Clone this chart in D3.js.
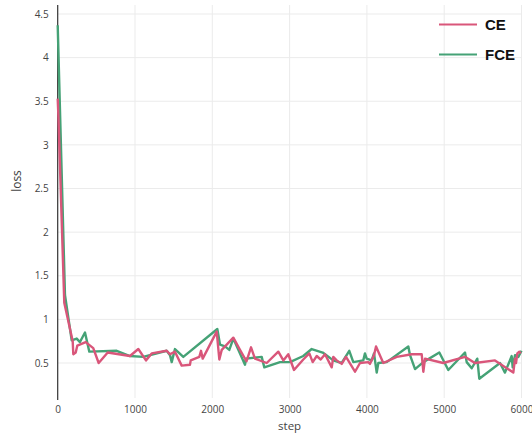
<!DOCTYPE html>
<html><head><meta charset="utf-8">
<script src="https://cdn.jsdelivr.net/npm/d3@7"></script>
<style>
html,body{margin:0;padding:0;background:#fff;}
svg{display:block;font-family:"Open Sans",sans-serif;}
</style></head>
<body>
<svg id="c" width="532" height="434"></svg>
<script>
const xTicks = [0,1000,2000,3000,4000,5000,6000];
const yTicks = [0.5,1,1.5,2,2.5,3,3.5,4,4.5];
const seriesNames = ["CE","FCE"];
const seriesColors = ["#d9567a","#45a276"];

const ceSteps = [0,10,85,194,202,233,254,362,460,530,647,935,1043,1142,1216,1410,1453,1517,1604,1711,1721,1832,1854,1876,2057,2091,2122,2272,2358,2442,2501,2552,2704,2854,2919,2983,3057,3177,3255,3299,3351,3402,3458,3545,3565,3609,3674,3730,3846,3911,4018,4040,4092,4118,4212,4386,4580,4709,4730,4752,4988,5269,5398,5657,5894,5916,5929,5946,5972,5990];
const ceLoss  = [3.53,3.31,1.19,0.75,0.60,0.62,0.70,0.74,0.67,0.50,0.62,0.58,0.66,0.53,0.61,0.64,0.60,0.63,0.47,0.48,0.53,0.57,0.64,0.55,0.86,0.54,0.65,0.79,0.65,0.52,0.68,0.55,0.50,0.63,0.53,0.60,0.42,0.54,0.61,0.51,0.58,0.54,0.60,0.45,0.57,0.53,0.49,0.57,0.40,0.50,0.51,0.49,0.59,0.69,0.50,0.57,0.60,0.60,0.40,0.55,0.50,0.57,0.50,0.53,0.39,0.55,0.50,0.61,0.63,0.61];

const fceSteps = [0,94,181,246,288,353,409,763,935,1107,1410,1453,1475,1517,1625,2065,2100,2164,2220,2272,2423,2436,2639,2673,2876,3005,3177,3286,3428,3565,3674,3772,3824,3953,3975,3997,4062,4092,4127,4148,4256,4536,4558,4623,4730,4937,5053,5269,5291,5356,5428,5454,5722,5786,5873,5886,5916,5959,6000];
const fceLoss  = [4.37,1.28,0.76,0.78,0.74,0.85,0.63,0.64,0.58,0.57,0.64,0.59,0.51,0.66,0.57,0.89,0.71,0.69,0.65,0.78,0.48,0.55,0.57,0.45,0.51,0.51,0.58,0.66,0.62,0.53,0.50,0.64,0.51,0.53,0.61,0.55,0.53,0.61,0.39,0.50,0.51,0.69,0.59,0.43,0.51,0.62,0.42,0.62,0.51,0.44,0.55,0.32,0.50,0.39,0.58,0.45,0.59,0.57,0.64];

const svg = d3.select("#c");
const L = 57.7, R = 521.5, T = 5, B = 398;
const x = d3.scaleLinear().domain([0,6000]).range([L,R]);
const y = d3.scaleLinear().domain([0.5,4.5]).range([363,14]);

// grid
svg.append("g").selectAll("line").data(xTicks.slice(1)).join("line")
  .attr("x1",d=>x(d)).attr("x2",d=>x(d)).attr("y1",T).attr("y2",B)
  .attr("stroke","#ebebeb").attr("stroke-width",1);
svg.append("g").selectAll("line").data(yTicks).join("line")
  .attr("x1",L).attr("x2",R).attr("y1",d=>y(d)).attr("y2",d=>y(d))
  .attr("stroke","#ebebeb").attr("stroke-width",1);

// axes
const xAxis = d3.axisBottom(x).tickValues(xTicks).tickSize(0).tickPadding(8).tickFormat(d3.format("d"));
const gx = svg.append("g").attr("transform",`translate(0,${B})`).call(xAxis);
gx.select(".domain").remove();
gx.selectAll("text").attr("fill","#444").style("font-size","10px").style("font-family","Open Sans, sans-serif");

const yAxis = d3.axisLeft(y).tickValues(yTicks).tickSize(0).tickPadding(9).tickFormat(d=>String(d));
const gy = svg.append("g").attr("transform",`translate(${L},0)`).call(yAxis);
gy.select(".domain").remove();
gy.selectAll("text").attr("fill","#444").style("font-size","10px").style("font-family","Open Sans, sans-serif");

svg.append("line").attr("x1",L).attr("x2",L).attr("y1",T).attr("y2",B+2)
  .attr("stroke","#333").attr("stroke-width",1.2);

svg.append("text").attr("x",(L+R)/2).attr("y",430).attr("text-anchor","middle")
  .attr("fill","#444").style("font-size","11.5px").text("step");
svg.append("text").attr("transform","translate(21,181) rotate(-90)").attr("text-anchor","middle")
  .attr("fill","#444").style("font-size","12px").text("loss");

// lines
const line = d3.line().x(d=>x(d[0])).y(d=>y(d[1]));
const ceData = ceSteps.map((s,i)=>[s,ceLoss[i]]);
const fceData = fceSteps.map((s,i)=>[s,fceLoss[i]]);
svg.append("path").datum(fceData).attr("d",line).attr("fill","none")
  .attr("stroke",seriesColors[1]).attr("stroke-width",2.4).attr("stroke-linejoin","round");
svg.append("path").datum(ceData).attr("d",line).attr("fill","none")
  .attr("stroke",seriesColors[0]).attr("stroke-width",2.4).attr("stroke-linejoin","round");

// legend
const leg = svg.append("g");
seriesNames.forEach((n,i)=>{
  const yy = 24.5 + i*30;
  leg.append("line").attr("x1",439).attr("x2",477).attr("y1",yy).attr("y2",yy)
    .attr("stroke",seriesColors[i]).attr("stroke-width",2);
  leg.append("text").attr("x",485).attr("y",yy+5.5).attr("fill","#111")
    .style("font-family","Liberation Sans, Arial, sans-serif").style("font-weight","bold").style("font-size","15px").text(n);
});
</script>
</body></html>
